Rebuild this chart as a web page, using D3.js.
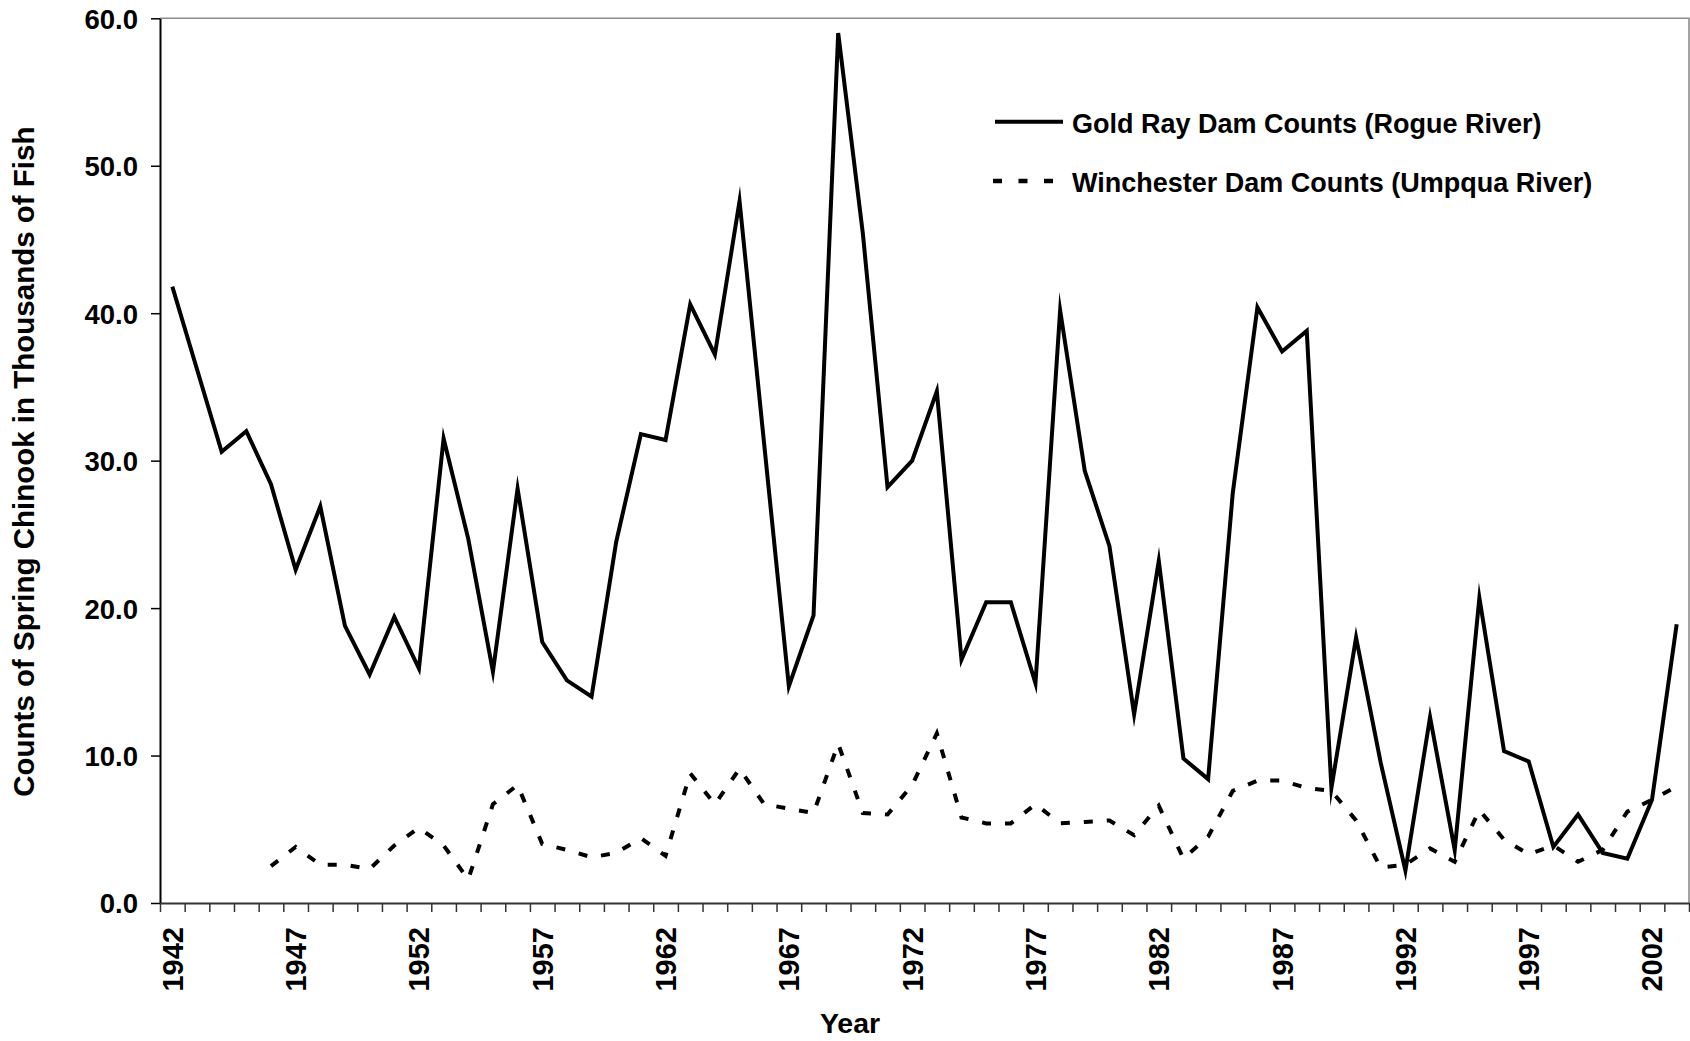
<!DOCTYPE html>
<html><head><meta charset="utf-8">
<script src="https://cdn.jsdelivr.net/npm/d3@7"></script>
<style>
body{margin:0;background:#fff}
svg{display:block}
text{font-family:"Liberation Sans",Arial,sans-serif;font-weight:bold;fill:#000}
</style>
</head><body><svg id="c" width="1690" height="1041"></svg>
<script>
const years = [1942,1943,1944,1945,1946,1947,1948,1949,1950,1951,1952,1953,1954,1955,1956,1957,1958,1959,1960,1961,
  1962,1963,1964,1965,1966,1967,1968,1969,1970,1971,1972,1973,1974,1975,1976,1977,1978,1979,1980,1981,
  1982,1983,1984,1985,1986,1987,1988,1989,1990,1991,1992,1993,1994,1995,1996,1997,1998,1999,2000,2001,2002,2003];
const goldRay = [41.8,36.2,30.6,32.0,28.4,22.6,26.9,18.8,15.5,19.4,15.9,31.5,24.7,15.7,28.1,17.7,15.1,14.0,24.5,31.8,
  31.4,40.6,37.2,47.6,31.1,14.7,19.5,59.0,45.4,28.2,30.0,34.7,16.5,20.4,20.4,14.9,40.2,29.3,24.2,12.8,
  23.2,9.8,8.4,27.8,40.4,37.4,38.8,7.8,18.0,9.5,2.2,12.6,3.6,20.7,10.3,9.6,3.8,6.0,3.4,3.0,7.0,18.9];
const winchester = [null,null,null,null,2.5,3.8,2.6,2.6,2.3,3.9,5.1,3.9,1.6,6.7,8.0,4.0,3.6,3.1,3.4,4.4,
  3.2,8.8,6.7,9.1,6.7,6.4,6.1,10.8,6.1,6.0,8.0,11.5,5.8,5.4,5.4,6.7,5.4,5.5,5.6,4.6,
  6.6,3.0,4.5,7.6,8.3,8.3,7.8,7.6,5.6,2.4,2.6,3.7,2.8,6.3,4.3,3.3,3.9,2.8,3.6,6.2,7.0,7.9];
const yTicks = [0,10,20,30,40,50,60];
const xTickLabels = [1942,1947,1952,1957,1962,1967,1972,1977,1982,1987,1992,1997,2002];
const seriesNames = ["Gold Ray Dam Counts (Rogue River)","Winchester Dam Counts (Umpqua River)"];
const yTitle = "Counts of Spring Chinook in Thousands of Fish";
const xTitle = "Year";

const L=160, R=1689, T=18.3, B=903;
const svg = d3.select("#c");
const x = d3.scaleBand().domain(years).range([L,R]).padding(0);
const xb = d3.scaleLinear().domain([years[0], years[years.length-1]+1]).range([L,R]);
const y = d3.scaleLinear().domain([0,60]).range([B,T]);
const cx = d => x(d) + x.bandwidth()/2;

// plot border (top & right)
svg.append("path").attr("d",`M${L},${T}H${R}V${B}`)
  .attr("fill","none").attr("stroke","#8c8c8c").attr("stroke-width",1.6);

// y axis
const ya = svg.append("g").attr("transform",`translate(${L},0)`)
  .call(d3.axisLeft(y).tickValues(yTicks).tickFormat(d3.format(".1f")).tickSize(9).tickSizeOuter(0).tickPadding(13));
ya.select(".domain").attr("stroke","#000").attr("stroke-width",2);
ya.selectAll(".tick line").attr("stroke","#000").attr("stroke-width",1.5);
ya.selectAll(".tick text").style("font-size","27.5px").attr("dy","0.36em");

// x axis tick marks at category boundaries
const xa = svg.append("g").attr("transform",`translate(0,${B})`)
  .call(d3.axisBottom(xb).tickValues(d3.range(years[0], years[years.length-1]+2)).tickFormat("").tickSize(9).tickSizeOuter(0));
xa.select(".domain").attr("stroke","#333").attr("stroke-width",2);
xa.selectAll(".tick line").attr("stroke","#333").attr("stroke-width",1.5);

// x labels at category centres
const xl = svg.append("g").attr("transform",`translate(0,${B})`)
  .call(d3.axisBottom(x).tickValues(xTickLabels).tickSize(0));
xl.select(".domain").remove();
xl.selectAll(".tick text")
  .style("font-size","29px")
  .attr("text-anchor","end")
  .attr("transform","rotate(-90)")
  .attr("x",-24).attr("y",0).attr("dy","0.36em");

// lines
const line = d3.line().defined(d => d[1] != null).x(d => cx(d[0])).y(d => y(d[1]));
svg.append("path").datum(years.map((yr,i)=>[yr,goldRay[i]]))
  .attr("d",line).attr("fill","none").attr("stroke","#000").attr("stroke-width",4)
  .attr("stroke-linejoin","miter").attr("stroke-miterlimit",10);
svg.append("path").datum(years.map((yr,i)=>[yr,winchester[i]]))
  .attr("d",line).attr("fill","none").attr("stroke","#000").attr("stroke-width",4)
  .attr("stroke-dasharray","9,14");

// legend
const lg = svg.append("g");
lg.append("line").attr("x1",995).attr("x2",1063).attr("y1",121.7).attr("y2",121.7)
  .attr("stroke","#000").attr("stroke-width",4);
lg.append("text").attr("x",1072).attr("y",133).style("font-size","27px").text(seriesNames[0]);
lg.append("line").attr("x1",993).attr("x2",1055).attr("y1",181).attr("y2",181)
  .attr("stroke","#000").attr("stroke-width",4.5).attr("stroke-dasharray","9,16.5");
lg.append("text").attr("x",1072).attr("y",192).style("font-size","27px").text(seriesNames[1]);

// titles
svg.append("text").attr("transform",`translate(34,${(T+B)/2+1}) rotate(-90)`)
  .attr("text-anchor","middle").style("font-size","29.5px").text(yTitle);
svg.append("text").attr("x",850).attr("y",1033).attr("text-anchor","middle")
  .style("font-size","28.5px").text(xTitle);
</script>
</body></html>
